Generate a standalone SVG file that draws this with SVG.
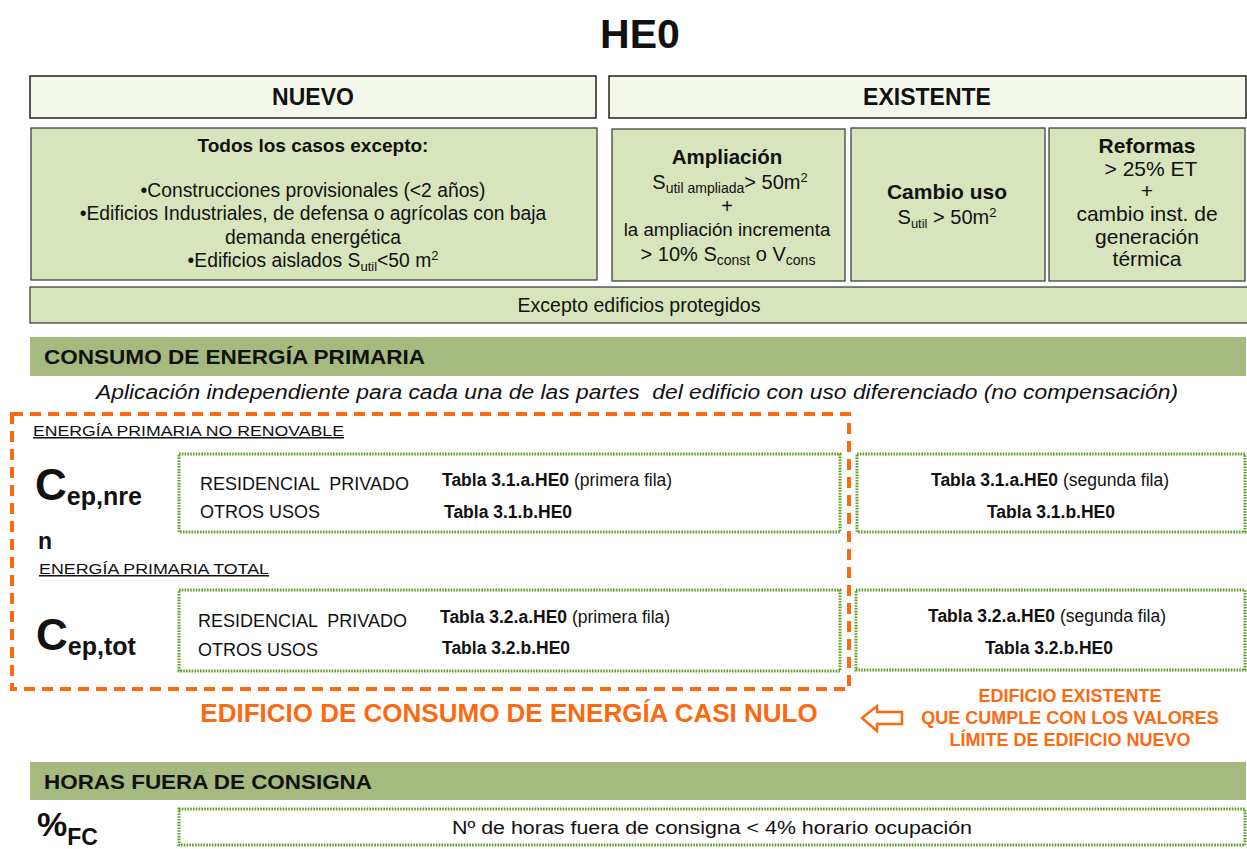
<svg xmlns="http://www.w3.org/2000/svg" width="1247" height="849" viewBox="0 0 1247 849">
<defs>
<style>
text{font-family:"Liberation Sans",Arial,sans-serif;fill:#111}
.b{font-weight:bold}
.hdr{fill:#f3f7ea;stroke:#222;stroke-width:1.5}
.lg{fill:#d8e4bc;stroke:#333;stroke-width:1.2}
.dk{fill:#a6b97f}
.dot{fill:#fff;stroke:#5f9e28;stroke-width:3;stroke-dasharray:1.6 1.2}
.c{text-anchor:middle}
.o{fill:#fb6a10}
</style>
</defs>
<rect width="1247" height="849" fill="#fff"/>
<text x="640" y="48" class="b c" font-size="41">HE0</text>

<g id="nuevo">
<rect class="hdr" x="30" y="76" width="566" height="42"/>
<text x="313" y="105" class="b c" font-size="23">NUEVO</text>
</g>
<g id="existente">
<rect class="hdr" x="609" y="76" width="637" height="42"/>
<text x="927" y="105" class="b c" font-size="23">EXISTENTE</text>
</g>

<g id="todos">
<rect class="lg" x="31" y="128" width="566" height="152"/>
<text x="313" y="152" class="b c" font-size="19">Todos los casos excepto:</text>
<text x="313" y="197" class="c" font-size="19.3">•Construcciones provisionales (&lt;2 años)</text>
<text x="313" y="220" class="c" font-size="19.3">•Edificios Industriales, de defensa o agrícolas con baja</text>
<text x="313" y="244" class="c" font-size="19.3">demanda energética</text>
<text x="313" y="267" class="c" font-size="19.3">•Edificios aislados S<tspan font-size="13" dy="4">util</tspan><tspan dy="-4">&lt;50 m</tspan><tspan font-size="13" dy="-7">2</tspan></text>
</g>

<g id="ampliacion">
<rect class="lg" x="612" y="129" width="233" height="152"/>
<text x="727" y="164" class="b c" font-size="20.5">Ampliación</text>
<text x="730" y="189" class="c" font-size="20">S<tspan font-size="14" dy="4">util ampliada</tspan><tspan dy="-4">&gt; 50m</tspan><tspan font-size="13" dy="-7">2</tspan></text>
<text x="727" y="213" class="c" font-size="20">+</text>
<text x="727" y="236" class="c" font-size="18.7">la ampliación incrementa</text>
<text x="728" y="261" class="c" font-size="20">&gt; 10% S<tspan font-size="14" dy="4">const</tspan><tspan dy="-4"> o V</tspan><tspan font-size="14" dy="4">cons</tspan></text>
</g>

<g id="cambio">
<rect class="lg" x="851" y="128" width="194" height="153"/>
<text x="947" y="199" class="b c" font-size="21">Cambio uso</text>
<text x="947" y="224" class="c" font-size="20">S<tspan font-size="13" dy="4">util</tspan><tspan dy="-4"> &gt; 50m</tspan><tspan font-size="13" dy="-7">2</tspan></text>
</g>

<g id="reformas">
<rect class="lg" x="1049" y="128" width="196" height="153"/>
<text x="1147" y="153" class="b c" font-size="21">Reformas</text>
<text x="1151" y="176" class="c" font-size="21">&gt; 25% ET</text>
<text x="1147" y="198" class="c" font-size="21">+</text>
<text x="1147" y="221" class="c" font-size="21">cambio inst. de</text>
<text x="1147" y="244" class="c" font-size="21">generación</text>
<text x="1147" y="266" class="c" font-size="21">térmica</text>
</g>

<g id="excepto">
<rect class="lg" x="30" y="287" width="1218" height="36"/>
<text x="639" y="312" class="c" font-size="19.5">Excepto edificios protegidos</text>
</g>

<g id="consumo-hdr">
<rect class="dk" x="30" y="337" width="1216" height="39"/>
<text x="44" y="364" class="b" font-size="21" textLength="381" lengthAdjust="spacingAndGlyphs">CONSUMO DE ENERGÍA PRIMARIA</text>
</g>
<text x="96" y="399" font-size="19.5" font-style="italic" textLength="1082" lengthAdjust="spacingAndGlyphs" xml:space="preserve">Aplicación independiente para cada una de las partes  del edificio con uso diferenciado (no compensación)</text>

<g id="nzeb-box">
<rect x="12" y="414" width="837" height="275" fill="none" stroke="#fb6a10" stroke-width="4" stroke-dasharray="11 7"/>
</g>

<g id="nre">
<text x="33" y="436" font-size="15" text-decoration="underline" textLength="311" lengthAdjust="spacingAndGlyphs">ENERGÍA PRIMARIA NO RENOVABLE</text>
<text x="35" y="500" class="b" font-size="44">C<tspan font-size="25" dy="5">ep,nre</tspan></text>
<text x="38" y="549" class="b" font-size="23">n</text>
<rect class="dot" x="179" y="454" width="661" height="78"/>
<text x="200" y="490" font-size="18" xml:space="preserve">RESIDENCIAL  PRIVADO</text>
<text x="200" y="518" font-size="18">OTROS USOS</text>
<text x="442" y="486" font-size="17.5"><tspan class="b">Tabla 3.1.a.HE0</tspan> (primera fila)</text>
<text x="444" y="518" class="b" font-size="17.5">Tabla 3.1.b.HE0</text>
</g>
<g id="nre-ex">
<rect class="dot" x="857" y="454" width="388" height="78"/>
<text x="1050" y="486" class="c" font-size="17.5"><tspan class="b">Tabla 3.1.a.HE0</tspan> (segunda fila)</text>
<text x="1051" y="518" class="b c" font-size="17.5">Tabla 3.1.b.HE0</text>
</g>

<g id="tot">
<text x="39" y="574" font-size="15" text-decoration="underline" textLength="230" lengthAdjust="spacingAndGlyphs">ENERGÍA PRIMARIA TOTAL</text>
<text x="36" y="650" class="b" font-size="44">C<tspan font-size="25" dy="5">ep,tot</tspan></text>
<rect class="dot" x="179" y="590" width="661" height="81"/>
<text x="198" y="627" font-size="18" xml:space="preserve">RESIDENCIAL  PRIVADO</text>
<text x="198" y="656" font-size="18">OTROS USOS</text>
<text x="440" y="623" font-size="17.5"><tspan class="b">Tabla 3.2.a.HE0</tspan> (primera fila)</text>
<text x="442" y="654" class="b" font-size="17.5">Tabla 3.2.b.HE0</text>
</g>
<g id="tot-ex">
<rect class="dot" x="856" y="590" width="389" height="80"/>
<text x="1047" y="622" class="c" font-size="17.5"><tspan class="b">Tabla 3.2.a.HE0</tspan> (segunda fila)</text>
<text x="1049" y="654" class="b c" font-size="17.5">Tabla 3.2.b.HE0</text>
</g>

<g id="nzeb">
<text x="509" y="722" class="b c o" font-size="26">EDIFICIO DE CONSUMO DE ENERGÍA CASI NULO</text>
</g>
<g id="connectors">
<path d="M862,718 L877,706 L877,712 L902,712 L902,724 L877,724 L877,731 Z" fill="#fff" stroke="#fb6a10" stroke-width="2.5"/>
</g>
<g id="existente-cumple">
<text x="1070" y="702" class="b c o" font-size="18">EDIFICIO EXISTENTE</text>
<text x="1070" y="724" class="b c o" font-size="18">QUE CUMPLE CON LOS VALORES</text>
<text x="1070" y="746" class="b c o" font-size="18">LÍMITE DE EDIFICIO NUEVO</text>
</g>

<g id="horas-hdr">
<rect class="dk" x="30" y="762" width="1216" height="38"/>
<text x="44" y="789" class="b" font-size="21" textLength="328" lengthAdjust="spacingAndGlyphs">HORAS FUERA DE CONSIGNA</text>
</g>
<g id="horas">
<text x="37" y="836" class="b" font-size="34">%<tspan font-size="23" dy="9">FC</tspan></text>
<rect class="dot" x="179" y="809" width="1066" height="36"/>
<text x="712" y="834" class="c" font-size="18" textLength="520" lengthAdjust="spacingAndGlyphs">Nº de horas fuera de consigna &lt; 4% horario ocupación</text>
</g>
</svg>
